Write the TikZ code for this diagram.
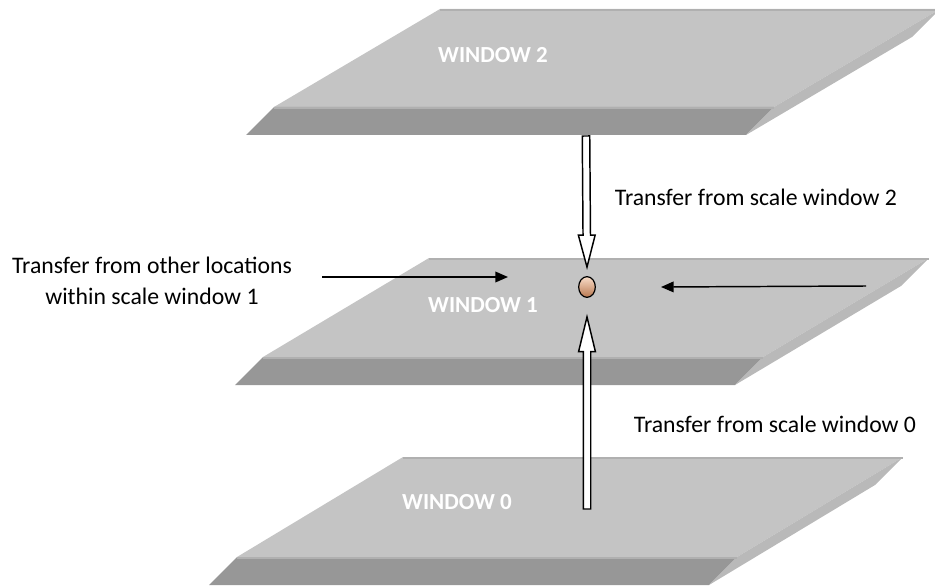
\documentclass[tikz,border=0pt]{standalone}
\usepackage{fontspec}
\setmainfont{Carlito}
\usepackage{tikz}
\usetikzlibrary{arrows.meta, calc, shapes.geometric}

\definecolor{slabtop}{HTML}{C4C4C4}
\definecolor{slabfront}{HTML}{979797}
\definecolor{slabside}{HTML}{B9B9B9}
\definecolor{slabedge}{HTML}{B0B0B0}
\definecolor{spottop}{HTML}{F8DCC8}
\definecolor{spotbot}{HTML}{B97850}

\begin{document}
\begin{tikzpicture}[x=0.75pt, y=-0.75pt,
			>={Triangle[length=9.5pt, width=8pt]},
			label/.style={font=\fontsize{17.8pt}{23.5pt}\selectfont, inner sep=0pt},
			winlabel/.style={font=\bfseries\fontsize{17.25pt}{20pt}\selectfont, text=white, inner sep=0pt},
			spot/.style={ellipse, draw, line width=0.9pt, minimum width=12.5pt, minimum height=15.5pt, inner sep=0pt, top color=spottop, bottom color=spotbot},
			thinarrow/.style={->, line width=1.1pt},
			hollow/.style={draw=black, fill=white, line width=1.1pt, line join=miter}]

			\useasboundingbox (0,0) rectangle (935,588);
			\clip (0,0) rectangle (935,588);

			% the three slabs: top-left corner of top face / depth of top face
			\foreach \tx/\ty/\h in {440/9/98, 429/258/99, 403/457/100} {
				\fill[slabtop] (\tx,\ty) -- (\tx+500,\ty) -- (\tx+334,\ty+\h) -- (\tx-166,\ty+\h) -- cycle;
				\fill[slabfront] (\tx-166,\ty+\h) -- (\tx+334,\ty+\h) -- (\tx+306,\ty+\h+28) -- (\tx-194,\ty+\h+28) -- cycle;
				\fill[slabside] (\tx+500,\ty) -- (\tx+472,\ty+28) -- (\tx+306,\ty+\h+28) -- (\tx+334,\ty+\h) -- cycle;
				\draw[slabedge, line width=1.2pt] (\tx,\ty+1) -- (\tx+500,\ty+1);
				\draw[slabedge, line width=1.2pt] (\tx-166,\ty+\h+1) -- (\tx+334,\ty+\h+1);
			}

			\node[winlabel] (win2) at (493,55) {WINDOW 2};
			\node[winlabel] (win1) at (483,305) {WINDOW 1};
			\node[winlabel] (win0) at (457,502) {WINDOW 0};

			\node[spot] (spot) at (587,287) {};

			\node[label] (from2) at (756,197) {Transfer from scale window 2};
			\node[label] (from0) at (775,424) {Transfer from scale window 0};
			\node[label, align=center] (fromin) at (152,281) {Transfer from other locations\\within scale window 1};

			% hollow arrows between the windows
			\coordinate (dnstart) at (586,136);
			\coordinate (dntip) at ($(spot.north)+(0,-9)$);
			\coordinate (dnbase) at ($(dntip)!24pt!(dnstart)$);
			\filldraw[hollow] ($(dnstart)!2.8pt!90:(dntip)$) -- ($(dnbase)!2.8pt!90:(dntip)$) -- ($(dnbase)!6.3pt!90:(dntip)$)
				-- (dntip) -- ($(dnbase)!6.3pt!-90:(dntip)$) -- ($(dnbase)!2.8pt!-90:(dntip)$) -- ($(dnstart)!2.8pt!-90:(dntip)$) -- cycle;

			\coordinate (upstart) at (587,509);
			\coordinate (uptip) at ($(spot.south)+(0,19)$);
			\coordinate (upbase) at ($(uptip)!26pt!(upstart)$);
			\filldraw[hollow] ($(upstart)!2.8pt!90:(uptip)$) -- ($(upbase)!2.8pt!90:(uptip)$) -- ($(upbase)!6.3pt!90:(uptip)$)
				-- (uptip) -- ($(upbase)!6.3pt!-90:(uptip)$) -- ($(upbase)!2.8pt!-90:(uptip)$) -- ($(upstart)!2.8pt!-90:(uptip)$) -- cycle;

			% arrows within window 1
			\coordinate (leftin) at (322,277);
			\coordinate (leftend) at (508,277);
			\coordinate (rightin) at (866,286);
			\coordinate (rightend) at (661,287);
			\draw[thinarrow] (leftin) -- (leftend);
			\draw[thinarrow] (rightin) -- (rightend);
		\end{tikzpicture}
\end{document}
